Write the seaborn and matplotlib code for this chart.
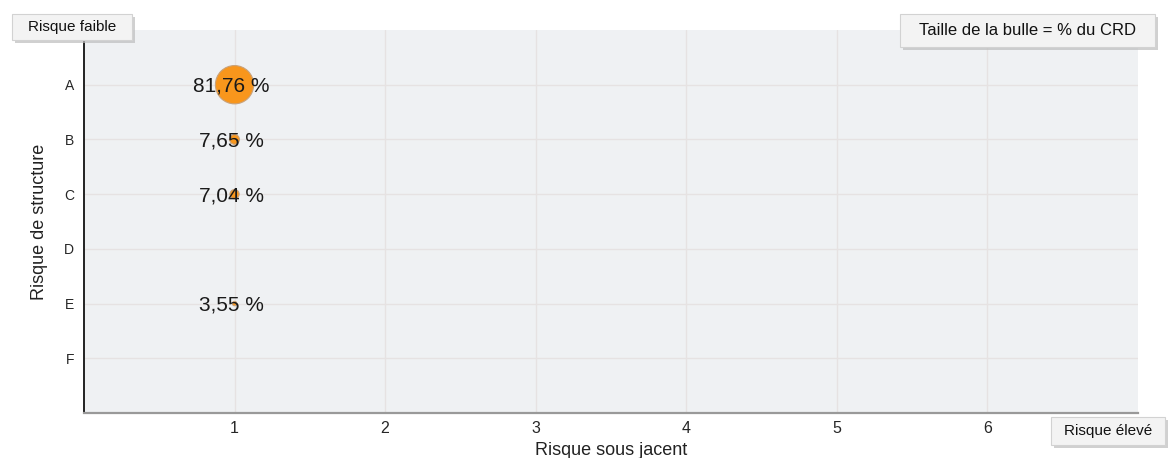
import numpy as np
import matplotlib
matplotlib.use("Agg")
import matplotlib.pyplot as plt
from matplotlib.patches import Rectangle
import seaborn as sns
import pandas as pd

# données
structure_labels = ["A", "B", "C", "D", "E", "F"]
sous_jacent_ticks = [1, 2, 3, 4, 5, 6]
point_sous_jacent = [1, 1, 1, 1]
point_structure = ["A", "B", "C", "E"]
point_crd = [81.76, 7.65, 7.04, 3.55]

sns.set_style("white")
plt.rcParams["font.family"] = ["Liberation Sans", "DejaVu Sans"]

df = pd.DataFrame({
    "x": point_sous_jacent,
    "y": [structure_labels.index(s) + 1 for s in point_structure],
    "crd": point_crd,
})

W, H = 1168, 458
fig = plt.figure(figsize=(W / 100, H / 100), dpi=100)
ax = fig.add_axes([0.0719, 0.0983, 0.9024, 0.8362])
ax.set_facecolor("#eff1f3")

sns.scatterplot(data=df, x="x", y="y", size="crd", sizes=(10, 760),
                size_norm=(min(point_crd), max(point_crd)),
                color="#f8961c", edgecolor="#c9a27a", linewidth=0.8,
                legend=False, zorder=3, ax=ax)

# étiquettes en %
for _, row in df.iterrows():
    txt = f"{row['crd']:.2f}".replace(".", ",") + " %"
    ax.text(row["x"] - 0.02, row["y"] + 0.03, txt, ha="center", va="center",
            fontsize=15, color="#1a1a1a", zorder=4)

ax.set_xlim(0, 7)
ax.set_ylim(7, 0)
ax.set_xticks(sous_jacent_ticks)
ax.set_xticklabels([str(t) for t in sous_jacent_ticks], fontsize=11.5)
ax.set_yticks(range(1, len(structure_labels) + 1))
ax.set_yticklabels(structure_labels, fontsize=10)
ax.tick_params(axis="both", length=0)
ax.tick_params(axis="y", pad=7)
ax.tick_params(axis="x", pad=6)
ax.grid(True, color="#e6e2e2", linewidth=1)
ax.set_axisbelow(True)

for side in ["top", "right"]:
    ax.spines[side].set_visible(False)
ax.spines["left"].set_color("#222222")
ax.spines["left"].set_linewidth(1.4)
ax.spines["bottom"].set_color("#999999")
ax.spines["bottom"].set_linewidth(1.6)

ax.set_xlabel("Risque sous jacent", fontsize=13, color="#222222", labelpad=4)
ax.set_ylabel("Risque de structure", fontsize=13, color="#222222", labelpad=12)


def boite(x0, y0, x1, y1, texte, size):
    # coordonnées en pixels depuis le haut à gauche
    fx, fw = x0 / W, (x1 - x0) / W
    fy, fh = 1 - y1 / H, (y1 - y0) / H
    fig.patches.append(Rectangle((fx + 3 / W, fy - 3 / H), fw, fh, transform=fig.transFigure,
                                 fc="#bdbdbd", ec="none", alpha=0.7, zorder=5))
    fig.patches.append(Rectangle((fx, fy), fw, fh, transform=fig.transFigure,
                                 fc="#f3f3f3", ec="#d2d2d2", lw=0.8, zorder=6))
    fig.text(fx + fw / 2, fy + fh / 2, texte, fontsize=size, ha="center", va="center",
             color="#111111", zorder=7)


boite(12, 14, 132, 40, "Risque faible", 11)
boite(900, 14, 1155, 47, "Taille de la bulle = % du CRD", 12)
boite(1051, 417, 1165, 445, "Risque élevé", 11)

fig.savefig("out.png", dpi=100)
